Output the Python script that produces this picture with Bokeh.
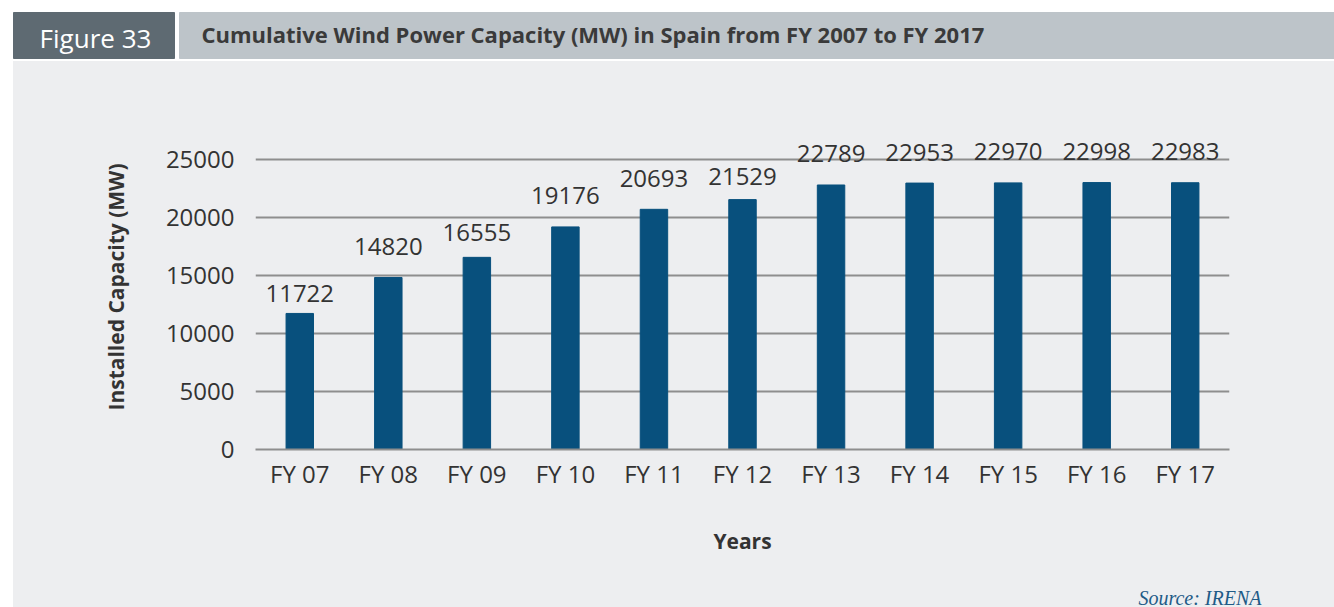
from bokeh.plotting import figure
from bokeh.models import (ColumnDataSource, FactorRange, Range1d, FixedTicker,
                          LabelSet, Spacer)
from bokeh.layouts import column, row
from bokeh.embed import file_html
from bokeh.resources import INLINE
from bokeh.core.properties import value

# ---------------- data ----------------
categories = ["FY 07", "FY 08", "FY 09", "FY 10", "FY 11", "FY 12",
              "FY 13", "FY 14", "FY 15", "FY 16", "FY 17"]
capacity_mw = [11722, 14820, 16555, 19176, 20693, 21529,
               22789, 22953, 22970, 22998, 22983]
y_ticks = [0, 5000, 10000, 15000, 20000, 25000]

fig_label = "Figure 33"
title_text = "Cumulative Wind Power Capacity (MW) in Spain from FY 2007 to FY 2017"
y_label = "Installed Capacity (MW)"
x_label = "Years"
source_text = "Source: IRENA"

# ---------------- style ----------------
FONT = "Open Sans"
TEXT = "#333333"
BAR = "#08507d"
GRID = "#8e8e8e"
PANEL = "#edeef0"
DARK_BOX = "#5e6a72"
LIGHT_BOX = "#bdc4c9"
SOURCE_COL = "#1e5b87"
label_gap_px = [11, 22, 16, 23, 22, 15, 23, 22, 23, 23, 23]

W = 1334
HEAD_H = 61
LEFT_PAD = 13
MAIN_W = W - LEFT_PAD
FOOT_H = 30
MAIN_H = 546 - FOOT_H
B_LEFT, B_RIGHT, B_TOP, B_BOTTOM = 242, 105, 63, 158 - FOOT_H
Y_END = 28000


def blank_fig(width, height, bg):
    f = figure(width=width, height=height, x_range=Range1d(0, width),
               y_range=Range1d(0, height), output_backend="svg",
               toolbar_location=None, min_border=0,
               x_axis_location=None, y_axis_location=None)
    f.grid.visible = False
    f.outline_line_color = None
    f.background_fill_color = bg
    f.border_fill_color = bg
    return f


# ---------------- header ----------------
head = blank_fig(W, HEAD_H, "white")
head.quad(left=[13], right=[174], bottom=[3], top=[49], color=DARK_BOX)
head.quad(left=[179], right=[W], bottom=[3], top=[49], color=LIGHT_BOX)
head.text(x=[95], y=[24], text=[fig_label], text_font=value(FONT),
          text_font_size="26px", text_color="white", text_align="center",
          text_baseline="middle")
head.text(x=[201], y=[28], text=[title_text], text_font=value(FONT),
          text_font_size="22px", text_font_style="bold", text_color="#3a3a3a",
          text_align="left", text_baseline="middle")

# ---------------- main chart ----------------
src = ColumnDataSource(dict(cat=categories, val=capacity_mw,
                            lab=[str(v) for v in capacity_mw],
                            off=label_gap_px))

p = figure(width=MAIN_W, height=MAIN_H, x_range=FactorRange(*categories),
           y_range=Range1d(0, Y_END), output_backend="svg", toolbar_location=None,
           min_border_left=B_LEFT, min_border_right=B_RIGHT,
           min_border_top=B_TOP, min_border_bottom=B_BOTTOM)
p.background_fill_color = PANEL
p.border_fill_color = PANEL
p.outline_line_color = None

p.vbar(x="cat", top="val", width=0.31, source=src, fill_color=BAR, line_color=BAR)

labels = LabelSet(x="cat", y="val", text="lab", y_offset="off", source=src,
                  text_align="center", text_baseline="alphabetic",
                  text_font=value(FONT), text_font_size="24px", text_color=TEXT)
p.add_layout(labels)

p.xgrid.visible = False
p.ygrid.ticker = FixedTicker(ticks=y_ticks)
p.ygrid.grid_line_color = GRID
p.ygrid.grid_line_width = 2

p.yaxis.ticker = FixedTicker(ticks=y_ticks)
p.yaxis.axis_line_color = None
p.yaxis.major_tick_line_color = None
p.yaxis.minor_tick_line_color = None
p.yaxis.major_label_standoff = 15
p.yaxis.major_label_text_font = FONT
p.yaxis.major_label_text_font_size = "24px"
p.yaxis.major_label_text_color = TEXT
p.yaxis.axis_label = y_label
p.yaxis.axis_label_text_font = FONT
p.yaxis.axis_label_text_font_size = "21px"
p.yaxis.axis_label_text_font_style = "bold"
p.yaxis.axis_label_text_color = TEXT
p.yaxis.axis_label_standoff = 33

p.xaxis.axis_line_color = GRID
p.xaxis.axis_line_width = 2
p.xaxis.major_tick_line_color = None
p.xaxis.minor_tick_line_color = None
p.xaxis.major_label_standoff = 1
p.xaxis.major_label_text_font = FONT
p.xaxis.major_label_text_font_size = "24px"
p.xaxis.major_label_text_color = TEXT
p.xaxis.axis_label = x_label
p.xaxis.axis_label_text_font = FONT
p.xaxis.axis_label_text_font_size = "21px"
p.xaxis.axis_label_text_font_style = "bold"
p.xaxis.axis_label_text_color = TEXT
p.xaxis.axis_label_standoff = 34

# ---------------- footer (source note) ----------------
foot = blank_fig(MAIN_W, FOOT_H, PANEL)
foot.text(x=[1248], y=[10], text=[source_text], text_font=value("Liberation Serif"),
          text_font_style="italic", text_font_size="20px", text_color=SOURCE_COL,
          text_align="right", text_baseline="middle")

white_bg = {"background-color": "white"}
panel_bg = {"background-color": PANEL}
layout = column(head,
                row(Spacer(width=LEFT_PAD, height=MAIN_H, styles=white_bg), p,
                    spacing=0, styles=panel_bg),
                row(Spacer(width=LEFT_PAD, height=FOOT_H, styles=white_bg), foot,
                    spacing=0, styles=panel_bg),
                spacing=0)
open("out.html", "w").write(file_html(layout, INLINE))
